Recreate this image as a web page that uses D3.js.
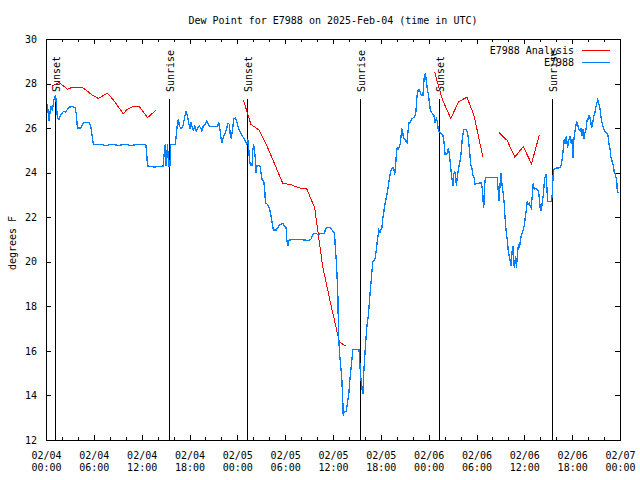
<!DOCTYPE html>
<html>
<head>
<meta charset="utf-8">
<script src="https://cdn.jsdelivr.net/npm/d3@7"></script>
<style>
  html, body { margin: 0; padding: 0; background: #fff; }
  svg { display: block; font-family: "DejaVu Sans Mono", "Liberation Mono", monospace; font-size: 10px; }
</style>
</head>
<body>
<svg id="chart" width="640" height="480"></svg>
<script>
// ---------- data (hours after 2025-02-04 00:00 UTC, dew point °F) ----------
const titleText = "Dew Point for E7988 on 2025-Feb-04 (time in UTC)";
const yLabel = "degrees F";
const seriesNames = ["E7988 Analysis", "E7988"];
const yTickValues = [12, 14, 16, 18, 20, 22, 24, 26, 28, 30];

// station observations
const obsDew = [
 [0.17,27.07],[0.38,26.3],[0.59,27.0],[0.8,26.77],[1.0,27.3],[1.21,27.48],[1.42,26.48],[1.63,26.4],[1.84,26.6],
 [2.26,26.77],[2.47,26.7],[2.81,26.93],[3.31,26.97],[3.64,26.93],[3.81,26.62],[3.94,26.0],[4.36,26.0],[4.57,26.17],
 [4.78,26.25],[5.4,26.25],[5.61,26.1],[5.82,25.55],[5.95,25.27],[6.8,25.27],[7.5,25.22],[8.3,25.27],[9.1,25.22],
 [9.9,25.27],[10.7,25.22],[11.5,25.27],[12.52,25.27],[12.61,24.97],[12.73,24.3],[13.57,24.25],[14.7,24.3],
 [14.83,24.9],[14.95,25.27],[15.04,24.3],[15.25,25.27],[15.37,24.3],[15.54,24.3],[15.67,25.27],[16.21,25.27],
 [16.29,25.5],[16.5,26.25],[16.63,26.4],[16.71,26.1],[16.92,26.0],[17.13,26.02],[17.26,26.25],[17.42,26.55],
 [17.55,26.74],[17.76,26.55],[17.89,26.25],[18.05,25.95],[18.18,26.25],[18.3,26.1],[18.47,25.9],[18.68,26.1],
 [18.85,25.87],[19.02,26.02],[19.23,26.1],[19.44,25.98],[19.56,25.87],[19.73,26.1],[19.98,26.17],[20.19,26.32],
 [20.4,26.13],[20.61,26.07],[21.53,26.07],[21.66,26.29],[21.82,25.95],[21.95,25.57],[22.07,25.35],[22.24,25.57],
 [22.49,25.8],[22.66,25.98],[22.83,26.22],[23.0,26.17],[23.12,25.65],[23.25,25.57],[23.41,25.95],[23.54,26.43],
 [23.75,26.45],[23.92,26.3],[24.17,25.95],[24.38,25.8],[24.59,25.65],[24.8,25.57],[25.0,25.42],[25.18,25.27],
 [25.3,25.5],[25.42,25.2],[25.51,24.6],[25.63,24.33],[25.85,24.33],[25.93,24.97],[26.05,25.27],[26.14,25.05],
 [26.26,24.6],[26.35,24.0],[26.47,24.33],[26.68,24.33],[26.85,24.27],[26.97,24.0],[27.1,23.7],[27.31,23.62],
 [27.44,23.25],[27.52,22.65],[27.81,22.57],[28.02,22.42],[28.23,22.05],[28.36,21.75],[28.52,21.42],[28.86,21.42],
 [29.07,21.52],[29.28,21.67],[29.7,21.72],[29.91,21.6],[30.12,21.52],[30.2,21.0],[30.33,20.7],[30.45,20.92],
 [30.53,20.97],[30.95,21.0],[31.79,21.0],[32.63,20.97],[33.05,20.97],[33.26,21.03],[33.47,21.22],[33.68,21.27],
 [33.89,21.27],[34.1,21.22],[34.39,21.27],[34.73,21.27],[34.94,21.3],[35.06,21.48],[35.23,21.54],[35.57,21.54],
 [35.77,21.48],[35.98,21.37],[36.19,21.3],[36.28,20.7],[36.4,20.1],[36.49,19.5],[36.61,18.45],[36.69,16.8],
 [36.82,15.9],[36.94,15.45],[37.11,14.7],[37.24,13.65],[37.28,13.08],[37.36,13.2],[37.45,13.27],[37.66,13.27],
 [37.78,13.57],[37.99,14.1],[38.08,14.55],[38.28,15.3],[38.49,16.05],[39.25,16.05],[39.33,15.75],[39.42,15.07],
 [39.54,14.62],[39.62,14.32],[39.75,14.07],[39.83,14.85],[39.96,15.6],[40.09,16.35],[40.25,17.1],[40.42,17.55],
 [40.59,18.3],[40.67,18.67],[40.8,19.2],[40.92,19.72],[41.01,20.02],[41.22,20.1],[41.34,20.25],[41.43,20.55],
 [41.55,20.92],[41.68,21.22],[41.76,21.42],[41.89,21.3],[42.01,21.45],[42.14,21.52],[42.22,21.9],[42.35,22.17],
 [42.47,22.5],[42.64,22.8],[42.81,23.1],[42.93,23.4],[43.06,23.7],[43.19,24.0],[43.35,24.15],[43.52,24.22],
 [43.65,24.15],[43.73,23.88],[43.86,24.3],[43.94,24.82],[44.06,25.12],[44.19,25.05],[44.36,25.17],[44.48,25.42],
 [44.61,25.95],[44.74,25.87],[44.82,25.57],[44.99,25.5],[45.11,25.42],[45.28,25.35],[45.41,25.87],[45.53,26.25],
 [45.74,26.28],[45.91,26.43],[46.12,26.47],[46.29,26.55],[46.41,26.77],[46.54,27.45],[46.66,27.67],[46.79,27.72],
 [46.96,27.6],[47.08,27.48],[47.29,27.48],[47.42,28.2],[47.58,28.47],[47.71,28.12],[47.83,27.75],[47.96,27.52],
 [48.04,27.3],[48.13,27.07],[48.21,26.77],[48.38,26.7],[48.55,26.62],[48.67,26.55],[48.8,26.25],[48.96,26.43],
 [49.09,26.32],[49.22,25.87],[49.38,25.8],[49.59,25.77],[49.8,25.65],[49.93,25.35],[50.05,24.82],[50.22,24.82],
 [50.3,24.87],[50.47,25.08],[50.6,24.82],[50.72,24.37],[50.85,23.92],[50.97,23.62],[51.06,23.4],[51.14,23.92],
 [51.27,24.07],[51.39,23.85],[51.48,23.4],[51.6,23.85],[51.81,24.3],[51.98,24.6],[52.11,25.05],[52.23,25.57],
 [52.4,25.95],[52.65,25.95],[52.86,25.8],[52.99,25.5],[53.15,24.9],[53.28,24.37],[53.45,24.15],[53.57,23.85],
 [53.7,23.77],[53.83,23.47],[53.99,23.5],[54.62,23.55],[54.74,23.25],[54.83,22.72],[54.91,22.42],[55.0,23.4],
 [55.12,23.77],[56.59,23.77],[56.67,23.47],[56.76,23.02],[56.84,22.72],[56.92,23.25],[57.05,24.0],[57.17,23.55],
 [57.34,23.1],[57.47,22.65],[57.55,22.12],[57.68,21.52],[57.85,21.0],[57.97,20.55],[58.1,20.25],[58.27,19.98],
 [58.35,19.8],[58.47,20.47],[58.6,20.7],[58.68,19.87],[58.77,19.72],[58.89,20.25],[59.02,19.72],[59.14,20.4],
 [59.27,20.77],[59.39,20.62],[59.52,21.0],[59.65,21.22],[59.86,21.45],[59.98,21.6],[60.11,21.97],[60.28,22.42],
 [60.36,22.72],[60.49,22.57],[60.61,22.65],[60.74,22.5],[60.86,22.42],[60.99,22.95],[61.11,23.52],[61.24,23.25],
 [61.36,23.28],[61.62,23.25],[61.79,23.17],[61.87,22.87],[61.99,22.42],[62.12,22.27],[62.24,22.65],[62.37,22.95],
 [62.5,23.55],[62.58,23.77],[62.7,23.92],[62.79,23.62],[62.91,22.72],[63.42,22.72],[63.5,23.02],[63.63,24.03],
 [63.75,24.15],[64.04,24.21],[64.55,24.22],[64.67,24.45],[64.8,24.75],[64.88,25.05],[65.01,25.5],[65.13,25.27],
 [65.26,25.65],[65.43,25.12],[65.6,25.5],[65.72,25.62],[65.85,25.35],[65.97,25.5],[66.1,24.67],[66.22,25.5],
 [66.39,25.95],[66.56,26.32],[66.73,26.1],[66.85,25.95],[67.02,25.87],[67.14,26.02],[67.23,25.65],[67.35,25.95],
 [67.48,25.5],[67.6,25.8],[67.73,25.95],[67.86,26.32],[67.98,26.4],[68.11,26.55],[68.23,26.47],[68.32,26.32],
 [68.44,26.02],[68.57,26.17],[68.69,26.55],[68.82,26.62],[68.94,26.92],[69.07,27.07],[69.2,27.27],[69.32,27.15],
 [69.49,26.85],[69.66,26.4],[69.83,26.1],[69.99,25.95],[70.16,25.8],[70.33,25.8],[70.5,25.65],[70.62,25.27],
 [70.75,25.05],[70.87,24.67],[71.0,24.52],[71.17,24.3],[71.29,24.0],[71.42,23.92],[71.59,23.62],[71.67,23.1],
 [71.92,23.1]
];

// analysis (null marks a gap)
const analysisDew = [
 [0.71,27.87],[1.63,28.05],[2.68,27.75],[3.31,27.83],[4.57,27.83],[5.82,27.48],[6.58,27.33],[7.71,27.57],
 [8.55,27.22],[9.68,26.65],[10.22,26.85],[10.85,26.95],[11.69,26.97],[12.73,26.47],[13.78,26.8],
 null,
 [24.75,27.27],[25.7,26.17],[26.7,25.92],[27.7,25.21],[28.7,24.37],[29.7,23.52],[30.7,23.47],[31.7,23.32],
 [32.7,23.28],[33.7,22.42],[34.7,19.8],[35.7,18.13],[36.8,16.4],[37.7,16.2],
 null,
 [48.76,28.5],[49.7,27.3],[50.77,26.43],[51.75,27.18],[52.8,27.39],[53.7,26.55],[54.8,24.7],
 null,
 [56.84,25.8],[57.84,25.45],[58.81,24.7],[59.86,25.17],[60.9,24.4],[61.87,25.68]
];

// sun events
const sunEventHours = [1.09, 15.37, 25.18, 39.33, 49.3, 63.5];
const sunEventNames = ["Sunset", "Sunrise", "Sunset", "Sunrise", "Sunset", "Sunrise"];

// ---------- drawing ----------
const startMs = Date.UTC(2025, 1, 4, 0, 0);
const toDate = h => new Date(startMs + h * 3600e3);

const L = 46, R = 620, T = 39, B = 440;
const svg = d3.select("#chart");

const x = d3.scaleUtc().domain([toDate(0), toDate(72)]).range([L, R]);
const y = d3.scaleLinear().domain([12, 30]).range([B, T]);

// title
svg.append("text").attr("x", 333).attr("y", 20).attr("dy", "0.35em")
  .attr("text-anchor", "middle").text(titleText);

// y label
svg.append("text").attr("transform", "translate(12,243) rotate(-90)")
  .attr("dy", "0.35em").attr("text-anchor", "middle").text(yLabel);

// axes (ticks inward)
const fmtDay = d3.utcFormat("%m/%d"), fmtHr = d3.utcFormat("%H:%M");
const major = d3.utcHour.every(6), minor = d3.utcHour.every(2);

const gxMinor = svg.append("g").attr("transform", `translate(0,${B})`)
  .call(d3.axisBottom(x).ticks(minor).tickSize(-3).tickFormat(""));
const gxMinorTop = svg.append("g").attr("transform", `translate(0,${T})`)
  .call(d3.axisTop(x).ticks(minor).tickSize(-3).tickFormat(""));
const gx = svg.append("g").attr("transform", `translate(0,${B})`)
  .call(d3.axisBottom(x).ticks(major).tickSize(-5).tickFormat(""));
const gxTop = svg.append("g").attr("transform", `translate(0,${T})`)
  .call(d3.axisTop(x).ticks(major).tickSize(-5).tickFormat(""));
const gy = svg.append("g").attr("transform", `translate(${L},0)`)
  .call(d3.axisLeft(y).tickValues(yTickValues).tickSize(-5).tickPadding(9).tickFormat(d3.format("d")));
const gyR = svg.append("g").attr("transform", `translate(${R},0)`)
  .call(d3.axisRight(y).tickValues(yTickValues).tickSize(-5).tickFormat(""));

[gxMinor, gxMinorTop, gx, gxTop, gy, gyR].forEach(g => {
  g.select(".domain").remove();
  g.attr("font-family", null).attr("font-size", null);
  g.selectAll("line").attr("shape-rendering", "crispEdges");
});
gy.selectAll("text").attr("fill", "#000");

// two-line x labels
gx.selectAll(".tick").each(function(d) {
  const t = d3.select(this).append("text").attr("fill", "#000").attr("text-anchor", "middle");
  t.append("tspan").attr("x", 0).attr("y", 15).attr("dy", "0.35em").text(fmtDay(d));
  t.append("tspan").attr("x", 0).attr("y", 27).attr("dy", "0.35em").text(fmtHr(d));
});

// frame
svg.append("rect").attr("x", L + 0.5).attr("y", T + 0.5).attr("width", R - L).attr("height", B - T)
  .attr("fill", "none").attr("stroke", "#000").attr("shape-rendering", "crispEdges");

// sun events
const sunG = svg.append("g");
sunEventHours.forEach((h, i) => {
  const px = Math.round(x(toDate(h))) + 0.5;
  sunG.append("line").attr("x1", px).attr("x2", px).attr("y1", 99).attr("y2", B)
    .attr("stroke", "#000").attr("shape-rendering", "crispEdges");
  sunG.append("text").attr("transform", `translate(${px + 0.5},92) rotate(-90)`)
    .attr("dy", "0.35em").attr("text-anchor", "start").text(sunEventNames[i]);
});

// lines
const line = d3.line().defined(d => d !== null)
  .x(d => x(toDate(d[0]))).y(d => y(d[1]));

svg.append("path").datum(analysisDew).attr("d", line)
  .attr("fill", "none").attr("stroke", "#ff0000").attr("stroke-width", 1)
  .attr("shape-rendering", "crispEdges");
svg.append("path").datum(obsDew).attr("d", line)
  .attr("fill", "none").attr("stroke", "#0080ff").attr("stroke-width", 1.3)
  .attr("shape-rendering", "crispEdges");

// legend
const legColors = ["#ff0000", "#0080ff"];
seriesNames.forEach((n, i) => {
  const ly = 50 + i * 12;
  svg.append("text").attr("x", 574).attr("y", ly).attr("dy", "0.35em")
    .attr("text-anchor", "end").text(n);
  svg.append("line").attr("x1", 582).attr("x2", 610).attr("y1", ly + 0.5).attr("y2", ly + 0.5)
    .attr("stroke", legColors[i]).attr("shape-rendering", "crispEdges");
});
</script>
</body>
</html>
